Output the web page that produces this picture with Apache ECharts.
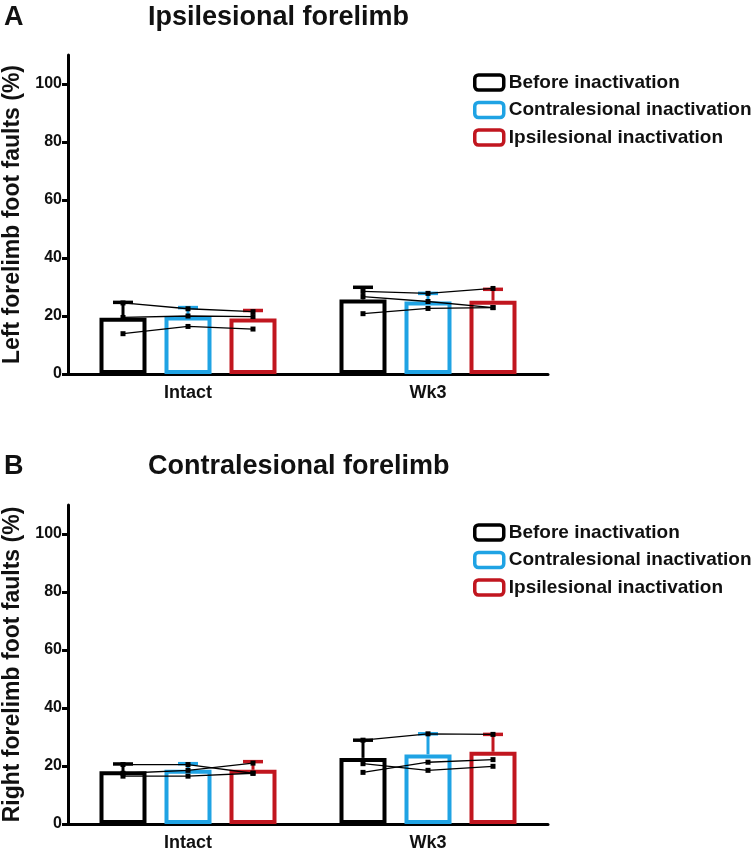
<!DOCTYPE html>
<html><head><meta charset="utf-8">
<script src="https://cdn.jsdelivr.net/npm/echarts@6/dist/echarts.min.js"></script>
<style>html,body{margin:0;padding:0;background:#fff}#c{width:754px;height:853px}</style>
</head><body><div id="c"></div>
<script>
// ---------- data ----------
const categories = ['Intact', 'Wk3'];
const conditions = ['Before inactivation', 'Contralesional inactivation', 'Ipsilesional inactivation'];
const yTicks = [0, 20, 40, 60, 80, 100];

// Panel A: Ipsilesional forelimb (left forelimb foot faults, %)
const ipsiBefore = [19.4, 25.7];
const ipsiContra = [19.8, 25.0];
const ipsiIpsi = [19.1, 25.3];
const ipsiBeforeErr = [5.3, 4.2];
const ipsiContraErr = [3.1, 2.8];
const ipsiIpsiErr = [2.8, 3.9];
// individual animals: [before, contra, ipsi]
const ipsiIntactAnimals = [[24.5, 22.5, 21.5], [19.5, 20.0, 19.8], [13.9, 16.4, 15.5]];
const ipsiWk3Animals = [[28.5, 27.8, 29.5], [26.7, 25.0, 22.9], [20.8, 22.6, 22.9]];

// Panel B: Contralesional forelimb (right forelimb foot faults, %)
const contraBefore = [18.2, 22.8];
const contraContra = [18.7, 24.0];
const contraIpsi = [18.7, 24.9];
const contraBeforeErr = [2.5, 6.1];
const contraContraErr = [2.1, 7.1];
const contraIpsiErr = [2.8, 6.0];
const contraIntactAnimals = [[20.5, 20.5, 17.5], [17.5, 18.5, 21.0], [16.5, 16.5, 17.5]];
const contraWk3Animals = [[28.9, 31.1, 30.9], [20.8, 18.5, 19.9], [17.8, 21.3, 22.2]];

// ---------- style ----------
const colors = ['#000000', '#1fa3e4', '#c1161f'];
const FONT = "'Liberation Sans', Arial, sans-serif";
const BAR_W = 47, BAR_GAP = 18, BAR_STEP = BAR_W + BAR_GAP;

const chart = echarts.init(document.getElementById('c'));

function errRender(params, api) {
  const j = api.value(0), m = api.value(1), e = api.value(2), i = api.value(3);
  const base = api.coord([j, m]);
  const top = api.coord([j, m + e]);
  const x = base[0] + (i - 1) * BAR_STEP;
  return {
    type: 'group', children: [
      { type: 'line', shape: { x1: x, y1: base[1], x2: x, y2: top[1] }, style: { stroke: colors[i], lineWidth: 3 } },
      { type: 'line', shape: { x1: x - 10, y1: top[1], x2: x + 10, y2: top[1] }, style: { stroke: colors[i], lineWidth: 3.5 } }
    ]
  };
}
function animalRender(params, api) {
  const j = api.value(0);
  const pts = [0, 1, 2].map(i => {
    const c = api.coord([j, api.value(1 + i)]);
    return [c[0] + (i - 1) * BAR_STEP, c[1]];
  });
  const children = [{ type: 'polyline', shape: { points: pts }, style: { stroke: '#000', lineWidth: 1.3, fill: null } }];
  pts.forEach(p => children.push({ type: 'rect', shape: { x: p[0] - 2.5, y: p[1] - 2.5, width: 5, height: 5 }, style: { fill: '#000' } }));
  return { type: 'group', children };
}

function panelSeries(idx, means, errs, animalsByCat) {
  const s = [];
  means.forEach((m, i) => {
    s.push({
      name: conditions[i], type: 'bar', xAxisIndex: idx, yAxisIndex: idx,
      data: m, barWidth: BAR_W, barGap: (BAR_GAP / BAR_W * 100) + '%',
      itemStyle: { color: '#fff', borderColor: colors[i], borderWidth: 4 },
      z: 2, animation: false
    });
  });
  const errData = [];
  errs.forEach((e, i) => e.forEach((v, j) => errData.push([j, means[i][j], v, i])));
  s.push({ type: 'custom', xAxisIndex: idx, yAxisIndex: idx, renderItem: errRender, data: errData, encode: { x: 0, y: 1 }, z: 3, animation: false, silent: true });
  const anData = [];
  animalsByCat.forEach((animals, j) => animals.forEach(a => anData.push([j, a[0], a[1], a[2]])));
  s.push({ type: 'custom', xAxisIndex: idx, yAxisIndex: idx, renderItem: animalRender, data: anData, encode: { x: 0, y: [1, 2, 3] }, z: 4, animation: false, silent: true });
  return s;
}

function xAxis(idx) {
  return {
    type: 'category', gridIndex: idx, data: categories,
    axisLine: { lineStyle: { color: '#000', width: 3 } },
    axisTick: { alignWithLabel: true, length: 6, lineStyle: { width: 3, color: '#000' } },
    axisLabel: { color: '#111', fontFamily: FONT, fontWeight: 'bold', fontSize: 18, margin: 10 }
  };
}
function yAxis(idx, name) {
  return {
    type: 'value', gridIndex: idx, min: 0, max: 110, interval: 20,
    name: name, nameLocation: 'middle', nameRotate: 90, nameGap: 44,
    nameTextStyle: { color: '#111', fontFamily: FONT, fontWeight: 'bold', fontSize: 23 },
    axisLine: { show: true, lineStyle: { color: '#000', width: 3 } },
    axisTick: { show: true, length: 6, lineStyle: { width: 3, color: '#000' }, customValues: yTicks },
    axisLabel: { color: '#111', fontFamily: FONT, fontWeight: 'bold', fontSize: 16, margin: 6, customValues: yTicks },
    splitLine: { show: false }
  };
}
function legend(top) {
  return {
    orient: 'vertical', left: 473, top: top, padding: 0,
    itemWidth: 29, itemHeight: 15, itemGap: 8.5, selectedMode: false,
    textStyle: { color: '#111', fontFamily: FONT, fontWeight: 'bold', fontSize: 19 },
    data: conditions.map((n, i) => ({ name: n, icon: 'roundRect', itemStyle: { color: '#fff', borderColor: colors[i], borderWidth: 3.5 } }))
  };
}
const titleStyle = { color: '#111', fontFamily: FONT, fontWeight: 'bold', fontSize: 27 };

chart.setOption({
  animation: false,
  backgroundColor: '#fff',
  title: [
    { text: 'A', left: 4, top: 4, padding: 0, textStyle: titleStyle },
    { text: 'Ipsilesional forelimb', left: 148, top: 4, padding: 0, textStyle: titleStyle },
    { text: 'B', left: 4, top: 453, padding: 0, textStyle: titleStyle },
    { text: 'Contralesional forelimb', left: 148, top: 453, padding: 0, textStyle: titleStyle }
  ],
  legend: [legend(73), legend(523)],
  grid: [
    { left: 68, top: 55, width: 480, height: 319, outerBoundsMode: 'none', containLabel: false },
    { left: 68, top: 505, width: 480, height: 319, outerBoundsMode: 'none', containLabel: false }
  ],
  xAxis: [xAxis(0), xAxis(1)],
  yAxis: [yAxis(0, 'Left forelimb foot faults (%)'), yAxis(1, 'Right forelimb foot faults (%)')],
  series: [
    ...panelSeries(0, [ipsiBefore, ipsiContra, ipsiIpsi], [ipsiBeforeErr, ipsiContraErr, ipsiIpsiErr], [ipsiIntactAnimals, ipsiWk3Animals]),
    ...panelSeries(1, [contraBefore, contraContra, contraIpsi], [contraBeforeErr, contraContraErr, contraIpsiErr], [contraIntactAnimals, contraWk3Animals])
  ]
});
</script></body></html>
